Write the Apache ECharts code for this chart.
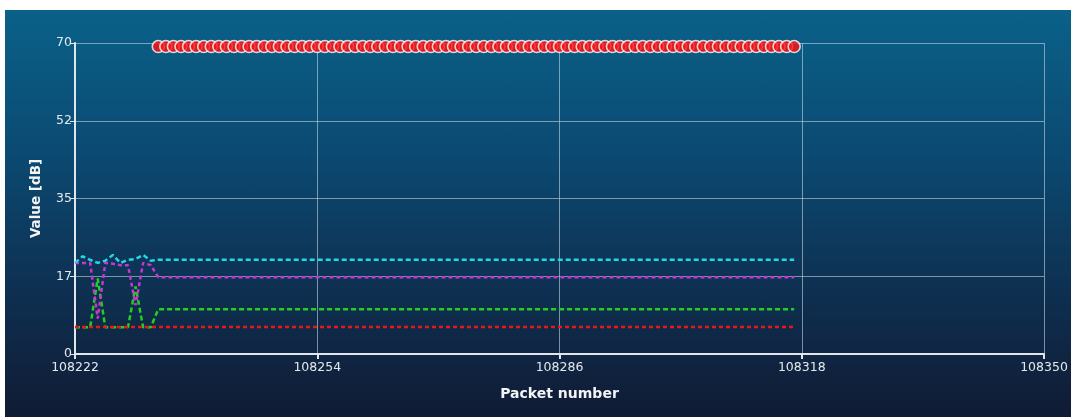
<!DOCTYPE html>
<html>
<head>
<meta charset="utf-8">
<script src="https://cdn.jsdelivr.net/npm/echarts@6/dist/echarts.min.js"></script>
<style>
html,body{margin:0;padding:0;background:#fff;}
#panel{position:absolute;left:5px;top:10px;width:1066px;height:407px;
  background:linear-gradient(to bottom,#0a6189 0%,#0b4a72 35%,#0e2f50 70%,#101b34 100%);}
#chart{position:absolute;left:0;top:0;width:1071px;height:417px;}
</style>
</head>
<body>
<div id="panel"></div>
<div id="chart"></div>
<script>
// ---- data ----
const xTickLabels = [108222, 108254, 108286, 108318, 108350];
const yTickLabels = ['0', '17', '35', '52', '70'];

// packets where the noisy lines have points (the tails are flat to 108317)
const linePackets = [108222,108223,108224,108225,108226,108227,108228,108229,108230,108231,108232,108233,108317];
const cyanValues    = [20.5, 22.0, 21.2, 20.5, 21.0, 22.3, 20.5, 21.2, 21.4, 22.3, 21.0, 21.2, 21.2];
const magentaValues = [20.5, 20.5, 20.5,  8.0, 20.5, 20.3, 20.0, 20.0, 11.0, 20.5, 20.0, 17.3, 17.3];
const greenValues   = [ 6.0,  6.0,  6.0, 17.0,  6.0,  6.0,  6.0,  6.0, 15.2,  6.0,  6.0, 10.1, 10.1];
const redValues     = [ 6.1,  6.1,  6.1,  6.1,  6.1,  6.1,  6.1,  6.1,  6.1,  6.1,  6.1,  6.1,  6.1];

// packets 108233 .. 108317 carry the saturated marker near the top
const dotStartPacket = 108233;
const dotValues = [69.2,69.2,69.2,69.2,69.2,69.2,69.2,69.2,69.2,69.2,69.2,69.2,69.2,69.2,69.2,69.2,69.2,69.2,69.2,69.2,
  69.2,69.2,69.2,69.2,69.2,69.2,69.2,69.2,69.2,69.2,69.2,69.2,69.2,69.2,69.2,69.2,69.2,69.2,69.2,69.2,
  69.2,69.2,69.2,69.2,69.2,69.2,69.2,69.2,69.2,69.2,69.2,69.2,69.2,69.2,69.2,69.2,69.2,69.2,69.2,69.2,
  69.2,69.2,69.2,69.2,69.2,69.2,69.2,69.2,69.2,69.2,69.2,69.2,69.2,69.2,69.2,69.2,69.2,69.2,69.2,69.2,
  69.2,69.2,69.2,69.2,69.2];

// ---- build ----
const pairs = (xs, ys) => xs.map((x, i) => [x, ys[i]]);
const dotData = dotValues.map((v, i) => [dotStartPacket + i, v]);

const chart = echarts.init(document.getElementById('chart'), null, {renderer: 'canvas'});
const font = 'DejaVu Sans';
const lineSeries = (name, vals, color, dash, width) => ({
  name, type: 'line', data: pairs(linePackets, vals), showSymbol: false, symbol: 'none',
  lineStyle: {color, width, type: dash}, animation: false, z: 3
});

chart.setOption({
  backgroundColor: 'transparent',
  animation: false,
  grid: {left: 75, right: 27, top: 43, bottom: 63},
  xAxis: {
    type: 'value', min: xTickLabels[0], max: xTickLabels[xTickLabels.length - 1],
    name: 'Packet number', nameLocation: 'middle', nameGap: 33,
    nameTextStyle: {color: '#f2f4f6', fontFamily: font, fontSize: 14, fontWeight: 'bold'},
    axisLine: {show: true, lineStyle: {color: '#dfe6ec', width: 2}},
    axisTick: {show: true, length: 5, customValues: xTickLabels, lineStyle: {color: '#dfe6ec', width: 2}},
    axisLabel: {customValues: xTickLabels, color: '#e4e8ec', fontFamily: font, fontSize: 12.5, margin: 7,
      formatter: v => String(v)},
    splitLine: {show: true, lineStyle: {color: 'rgba(190,210,225,0.62)', width: 1}}
  },
  yAxis: {
    type: 'value', min: 0, max: 70, interval: 17.5,
    name: 'Value [dB]', nameLocation: 'middle', nameGap: 32, nameRotate: 90,
    nameTextStyle: {color: '#f2f4f6', fontFamily: font, fontSize: 13.5, fontWeight: 'bold'},
    axisLine: {show: true, lineStyle: {color: '#dfe6ec', width: 2}},
    axisTick: {show: true, length: 5, lineStyle: {color: '#dfe6ec', width: 1}},
    axisLabel: {color: '#e4e8ec', fontFamily: font, fontSize: 12.5, margin: 3,
      formatter: v => yTickLabels[Math.round(v / 17.5)]},
    splitLine: {show: true, lineStyle: {color: 'rgba(190,210,225,0.62)', width: 1}}
  },
  series: [
    lineSeries('green', greenValues, '#22d022', [5, 3], 2.5),
    lineSeries('red', redValues, '#e81818', [4, 3], 2.5),
    lineSeries('magenta', magentaValues, '#c836d2', [4, 3], 2.5),
    lineSeries('cyan', cyanValues, '#26d6e6', [5, 3], 2.5),
    {
      name: 'saturated', type: 'scatter', data: dotData, symbol: 'circle', symbolSize: 12,
      itemStyle: {color: '#ff1111', borderColor: '#ffffff', borderWidth: 1.6},
      clip: false, animation: false, z: 4
    }
  ]
});
</script>
</body>
</html>
